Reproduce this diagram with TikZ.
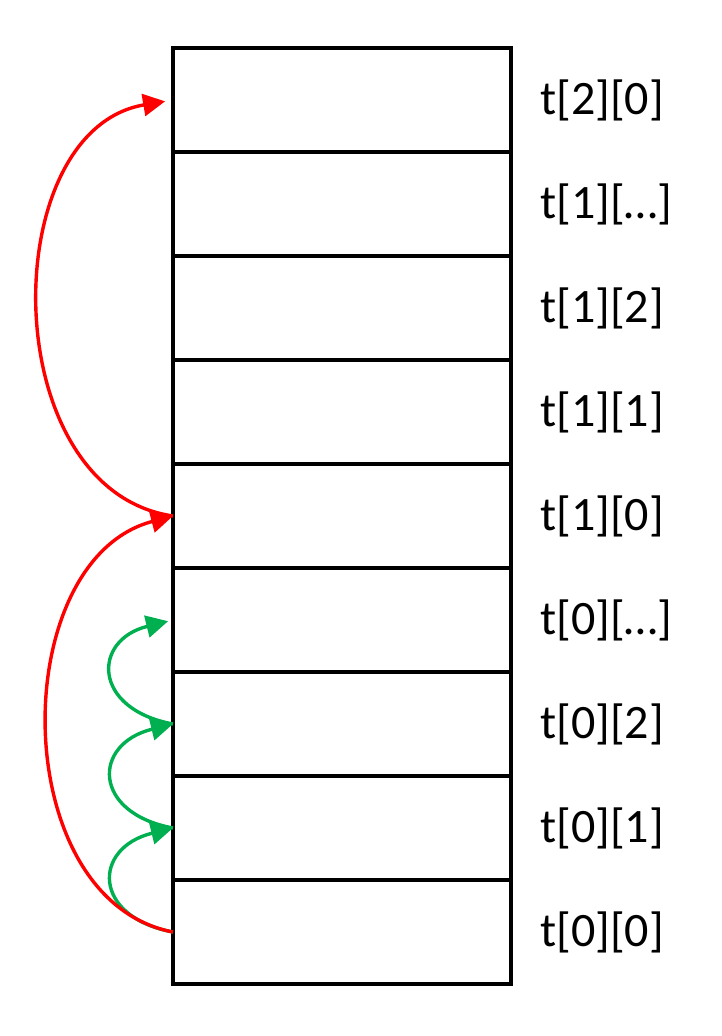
\documentclass[tikz,border=0pt]{standalone}
\usepackage{fontspec}
\setmainfont{Carlito}
\usetikzlibrary{arrows.meta}
\definecolor{offred}{HTML}{FF0000}
\definecolor{offgreen}{HTML}{00B050}
\begin{document}
\begin{tikzpicture}[x=1pt,y=-1pt,
  cell/.style={draw=black,line width=4pt,minimum width=338pt,minimum height=104pt,inner sep=0pt,outer sep=0pt},
  lbl/.style={anchor=west,inner sep=0pt,font=\fontsize{48}{52}\selectfont},
  tip/.style={-{Triangle[length=22pt,width=22pt]}},
  redarc/.style={tip,draw=offred,line width=3.4pt},
  greenarc/.style={tip,draw=offgreen,line width=3.4pt}]
\useasboundingbox (0,0) rectangle (722,1036);
\foreach \i/\t in {0/{t[2][0]},1/{t[1][…]},2/{t[1][2]},3/{t[1][1]},4/{t[1][0]},5/{t[0][…]},6/{t[0][2]},7/{t[0][1]},8/{t[0][0]}}{
  \node[cell] (c\i) at (342,{100+104*\i}) {};
  \node[lbl] (l\i) at (540,{100+104*\i}) {\t};
}
% green arcs (under red)
\draw[greenarc] (c8.west) .. controls +(-81,-15) and +(-81,20) .. (c7.west);
\draw[greenarc] (c7.west) .. controls +(-81,-15) and +(-81,20) .. (c6.west);
\draw[greenarc,shorten >=5pt] (c6.west) .. controls +(-81,-15) and +(-81,20) .. (c5.west);
% red arcs
\draw[redarc] (c8.west) .. controls +(-167,-32) and +(-167,44) .. (c4.west);
\draw[redarc,shorten >=8pt] (c4.west) .. controls +(-178,-26) and +(-178,30) .. (c0.west);
\end{tikzpicture}
\end{document}
